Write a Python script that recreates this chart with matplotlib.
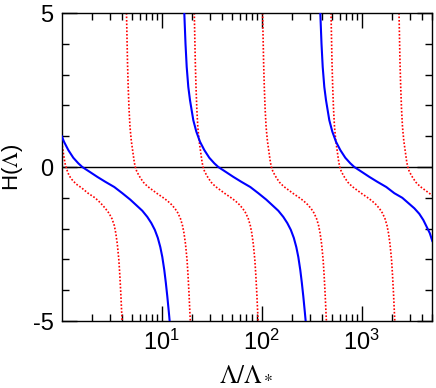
import numpy as np
import matplotlib
matplotlib.use("Agg")
import matplotlib.pyplot as plt
from matplotlib.ticker import FixedLocator, FixedFormatter, LogLocator, NullFormatter

plt.rcParams['font.family'] = ['Liberation Sans', 'DejaVu Sans']
plt.rcParams['mathtext.fontset'] = 'custom'
plt.rcParams['mathtext.rm'] = 'Liberation Sans'
plt.rcParams['mathtext.it'] = 'Liberation Sans:italic'
plt.rcParams['mathtext.bf'] = 'Liberation Sans:bold'

# values; x given as log10(Lambda/Lambda_*)
# solid blue curve, three branches
blue_log1 = [0.0, 0.022, 0.065, 0.115, 0.165, 0.205, 0.285, 0.355, 0.435, 0.525, 0.605,
             0.685, 0.745, 0.805, 0.855, 0.895, 0.930, 0.960, 0.985, 1.005, 1.025, 1.040,
             1.055, 1.070, 1.080, 1.087]
blue_h1 = [1.0, 0.82, 0.55, 0.30, 0.12, 0.0, -0.17, -0.32, -0.48, -0.65, -0.85,
           -1.06, -1.24, -1.42, -1.62, -1.82, -2.04, -2.3, -2.6, -2.92, -3.35, -3.75,
           -4.2, -4.7, -5.05, -5.4]

blue_log2 = [1.220, 1.225, 1.237, 1.249, 1.265, 1.282, 1.315, 1.345, 1.382, 1.425, 1.475,
             1.525, 1.565, 1.645, 1.715, 1.795, 1.885, 1.965, 2.045, 2.105, 2.165, 2.215,
             2.255, 2.290, 2.320, 2.345, 2.365, 2.385, 2.400, 2.415, 2.430, 2.440, 2.447]
blue_h2 = [5.5, 5.0, 4.0, 3.25, 2.6, 2.17, 1.52, 1.15, 0.82, 0.55, 0.30,
           0.12, 0.0, -0.17, -0.32, -0.48, -0.65, -0.85, -1.06, -1.24, -1.42, -1.62,
           -1.82, -2.04, -2.3, -2.6, -2.92, -3.35, -3.75, -4.2, -4.7, -5.05, -5.4]

blue_log3 = [2.580, 2.585, 2.597, 2.609, 2.625, 2.642, 2.675, 2.705, 2.742, 2.785, 2.835,
             2.885, 2.925, 3.005, 3.075, 3.155, 3.245, 3.325, 3.405, 3.465, 3.525, 3.575,
             3.615, 3.650, 3.680, 3.705]
blue_h3 = [5.5, 5.0, 4.0, 3.25, 2.6, 2.17, 1.52, 1.15, 0.82, 0.55, 0.30,
           0.12, 0.0, -0.17, -0.32, -0.48, -0.65, -0.85, -1.0, -1.17, -1.34, -1.52,
           -1.72, -1.95, -2.15, -2.4]

# dotted red curve, six branches
red_log1 = [0.0, 0.017, 0.032, 0.052, 0.072, 0.099, 0.142, 0.199, 0.262, 0.332, 0.382,
            0.432, 0.472, 0.502, 0.525, 0.540, 0.555, 0.570, 0.580, 0.590, 0.597, 0.603,
            0.607]
red_h1 = [0.8, 0.42, 0.12, -0.1, -0.27, -0.4, -0.55, -0.68, -0.85, -1.0, -1.15,
          -1.33, -1.5, -1.68, -1.9, -2.15, -2.5, -3.0, -3.5, -4.1, -4.6, -5.0,
          -5.4]

red_h = [5.5, 5.0, 4.2, 3.4, 2.6, 1.9, 1.3, 0.85, 0.5, 0.15, 0.0,
         -0.12, -0.25, -0.36, -0.5, -0.63, -0.75, -0.87, -0.98, -1.1, -1.22, -1.35,
         -1.5, -1.68, -1.9, -2.15, -2.5, -3.0, -3.5, -4.1, -4.6, -5.0, -5.4]

red_log2 = [0.644, 0.647, 0.652, 0.657, 0.664, 0.672, 0.682, 0.695, 0.710, 0.725, 0.735,
            0.747, 0.767, 0.787, 0.817, 0.857, 0.907, 0.957, 1.007, 1.057, 1.097, 1.132,
            1.162, 1.187, 1.207, 1.222, 1.237, 1.252, 1.262, 1.272, 1.279, 1.285, 1.289]
red_log3 = [1.322, 1.325, 1.330, 1.335, 1.342, 1.350, 1.360, 1.373, 1.388, 1.403, 1.413,
            1.425, 1.445, 1.465, 1.495, 1.535, 1.585, 1.635, 1.685, 1.735, 1.775, 1.810,
            1.840, 1.865, 1.885, 1.900, 1.915, 1.930, 1.940, 1.950, 1.957, 1.963, 1.967]
red_log4 = [2.005, 2.008, 2.013, 2.018, 2.025, 2.033, 2.043, 2.056, 2.071, 2.086, 2.096,
            2.108, 2.128, 2.148, 2.178, 2.218, 2.268, 2.318, 2.368, 2.418, 2.458, 2.493,
            2.523, 2.548, 2.568, 2.583, 2.598, 2.613, 2.623, 2.633, 2.640, 2.646, 2.650]
red_log5 = [2.689, 2.692, 2.697, 2.702, 2.709, 2.717, 2.727, 2.740, 2.755, 2.770, 2.780,
            2.792, 2.812, 2.832, 2.862, 2.902, 2.952, 3.002, 3.052, 3.102, 3.142, 3.177,
            3.207, 3.232, 3.252, 3.267, 3.282, 3.297, 3.307, 3.317, 3.324, 3.330, 3.334]
red_log6 = [3.369, 3.372, 3.377, 3.382, 3.389, 3.397, 3.407, 3.420, 3.435, 3.450, 3.460,
            3.472, 3.492, 3.512, 3.542, 3.582, 3.632, 3.682, 3.732]

x_major = [10, 100, 1000]
x_labels = [r'$10^{1}$', r'$10^{2}$', r'$10^{3}$']
y_major = [-5, 0, 5]
y_labels = ['-5', '0', '5']
y_minor = [-4, -3, -2, -1, 1, 2, 3, 4]


fig = plt.figure(figsize=(4.36, 3.88), dpi=100)
ax = fig.add_axes([61.8 / 436, 67 / 388, 369.9 / 436, 308 / 388])

ax.axhline(0, color='black', lw=1.0, zorder=1)

red_style = dict(color='#ff0000', lw=1.2, linestyle=(0, (1, 1.1)), zorder=2)
ax.plot(10 ** np.array(red_log1), red_h1, **red_style)
for lg in [red_log2, red_log3, red_log4, red_log5]:
    ax.plot(10 ** np.array(lg), red_h, **red_style)
ax.plot(10 ** np.array(red_log6), red_h[:len(red_log6)], **red_style)

blue_style = dict(color='#0000ff', lw=1.5, zorder=3)
ax.plot(10 ** np.array(blue_log1), blue_h1, **blue_style)
ax.plot(10 ** np.array(blue_log2), blue_h2, **blue_style)
ax.plot(10 ** np.array(blue_log3), blue_h3, **blue_style)

ax.set_xscale('log')
ax.set_xlim(1, 5000)
ax.set_ylim(-5, 5)

ax.xaxis.set_major_locator(FixedLocator(x_major))
ax.xaxis.set_major_formatter(FixedFormatter(x_labels))
ax.xaxis.set_minor_locator(LogLocator(base=10, subs=np.arange(2, 10), numticks=20))
ax.xaxis.set_minor_formatter(NullFormatter())
ax.yaxis.set_major_locator(FixedLocator(y_major))
ax.yaxis.set_major_formatter(FixedFormatter(y_labels))
ax.yaxis.set_minor_locator(FixedLocator(y_minor))

ax.tick_params(which='both', direction='in', top=True, right=True, width=1.0, color='black')
ax.tick_params(which='major', length=10.5, labelsize=17, pad=6)
ax.tick_params(which='minor', length=5.3)
for s in ax.spines.values():
    s.set_linewidth(1.0)

ax.set_xlabel(r'$\Lambda/\Lambda_*$', fontsize=18, math_fontfamily='stix', labelpad=5)
ax.set_ylabel(r'H($\Lambda$)', fontsize=16, math_fontfamily='stix')
ax.yaxis.set_label_coords(-0.10, 0.5)

fig.savefig('out.png', dpi=100)
